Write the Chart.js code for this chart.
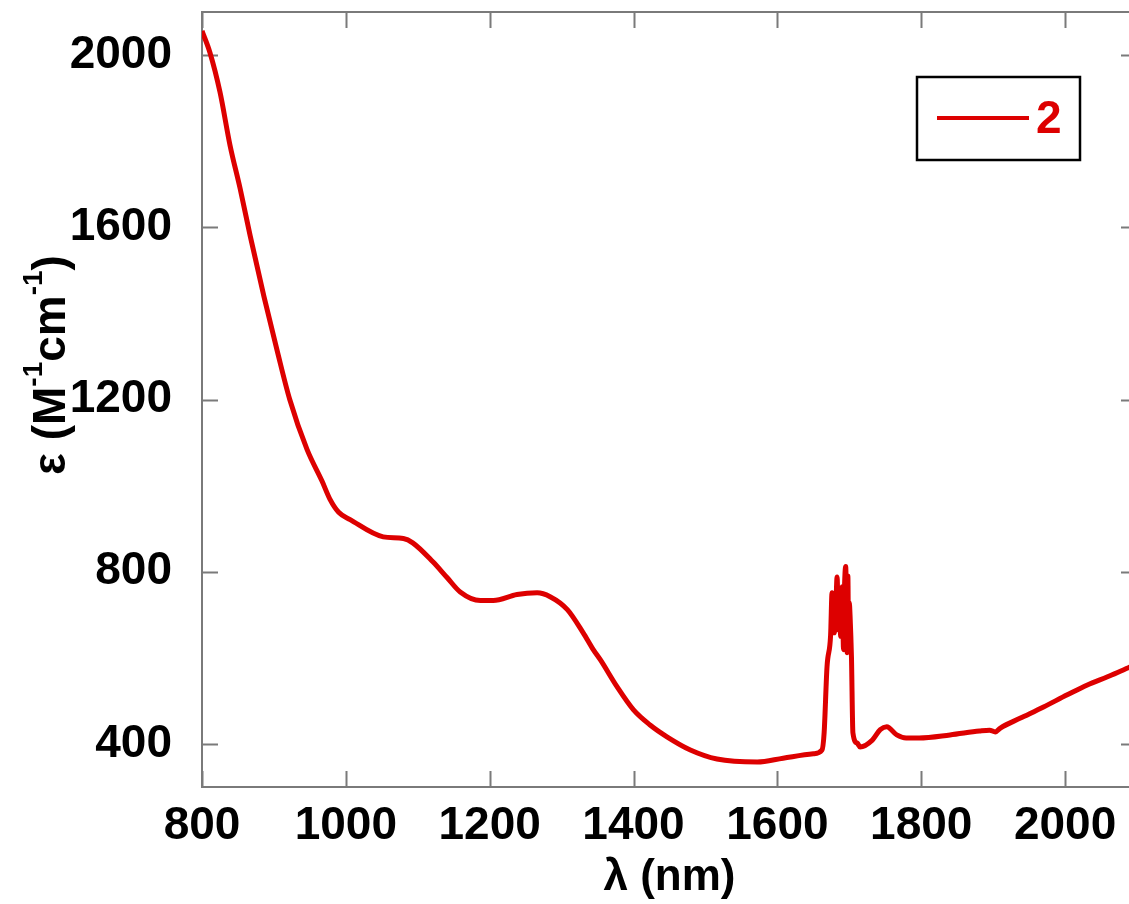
<!DOCTYPE html>
<html>
<head>
<meta charset="utf-8">
<script src="https://cdn.jsdelivr.net/npm/chart.js@4.4.1/dist/chart.umd.min.js"></script>
<style>
  html, body { margin: 0; padding: 0; overflow: hidden; background: #fff; }
  canvas { display: block; }
</style>
</head>
<body>
<canvas id="myChart" width="1145" height="904"></canvas>
<script>
const wavelength = [800, 811, 825, 839, 853, 867, 886, 905, 922, 946, 967, 978, 990, 1006, 1052, 1080, 1093, 1121, 1141, 1159,
  1187, 1205, 1238, 1266, 1284, 1308, 1330, 1344, 1354, 1377, 1400, 1423, 1447, 1479, 1516, 1572, 1608, 1650, 1662, 1665,
  1669, 1674, 1676, 1677, 1679, 1681, 1683, 1685, 1686, 1688, 1690, 1692, 1693, 1695, 1697, 1698, 1699, 1700, 1701, 1703,
  1705, 1711, 1715, 1732, 1743, 1752, 1766, 1779, 1797, 1840, 1881, 1895, 1903, 1910, 1938, 1970, 2003, 2031, 2059, 2088, 2100];
const epsilon = [2056, 2006, 1914, 1790, 1690, 1580, 1440, 1310, 1200, 1084, 1010, 968, 938, 921, 881, 877, 867, 823, 786, 753,
  733, 733, 747, 751, 742, 712, 658, 619, 595, 533, 479, 444, 416, 386, 365, 358, 367, 377, 386, 426,
  579, 653, 751, 690, 658, 700, 788, 665, 760, 650, 765, 619, 740, 812, 612, 790, 640, 728, 700, 602,
  426, 402, 393, 409, 433, 440, 421, 414, 414, 421, 430, 432, 428, 437, 460, 486, 514, 537, 556, 577, 585];
const xTicks = [800, 1000, 1200, 1400, 1600, 1800, 2000];
const yTicks = [400, 800, 1200, 1600, 2000];

const red = '#dd0000';
const frameColor = '#7a7a7a';
const fontFam = '"Liberation Sans", Arial, Helvetica, sans-serif';

const points = wavelength.map((w, i) => ({ x: w, y: epsilon[i] }));

// box, inward ticks on all four sides, y title with superscripts, boxed legend
const decor = {
  id: 'decor',
  beforeDatasetsDraw(chart) {
    const { ctx, chartArea: a, scales } = chart;
    const tl = 16;
    ctx.save();
    ctx.strokeStyle = frameColor;
    ctx.lineWidth = 2;
    ctx.strokeRect(a.left, a.top, a.right - a.left, a.bottom - a.top);
    ctx.beginPath();
    xTicks.forEach(v => {
      const px = Math.round(scales.x.getPixelForValue(v)) + 0.5;
      ctx.moveTo(px, a.bottom); ctx.lineTo(px, a.bottom - tl);
      ctx.moveTo(px, a.top); ctx.lineTo(px, a.top + tl);
    });
    yTicks.forEach(v => {
      const py = Math.round(scales.y.getPixelForValue(v)) + 0.5;
      ctx.moveTo(a.left, py); ctx.lineTo(a.left + tl, py);
      ctx.moveTo(a.right, py); ctx.lineTo(a.right - tl, py);
    });
    ctx.stroke();
    ctx.restore();
  },
  afterDraw(chart) {
    const { ctx } = chart;
    ctx.save();
    // y axis title
    const parts = [
      ['\u03b5 (M', 46, 0], ['-1', 28, -23], ['cm', 46, 0], ['-1', 28, -23], [')', 46, 0]
    ];
    let total = 0;
    parts.forEach(p => { ctx.font = 'bold ' + p[1] + 'px ' + fontFam; total += ctx.measureText(p[0]).width; });
    ctx.translate(65, 365 + total / 2);
    ctx.rotate(-Math.PI / 2);
    ctx.fillStyle = '#000';
    ctx.textBaseline = 'alphabetic';
    let cx = 0;
    parts.forEach(p => {
      ctx.font = 'bold ' + p[1] + 'px ' + fontFam;
      ctx.fillText(p[0], cx, p[2]);
      cx += ctx.measureText(p[0]).width;
    });
    ctx.restore();

    // legend
    const ds = chart.data.datasets[0];
    ctx.save();
    ctx.strokeStyle = '#000';
    ctx.lineWidth = 2.5;
    ctx.strokeRect(917, 77, 163, 83);
    ctx.strokeStyle = ds.borderColor;
    ctx.lineWidth = 4;
    ctx.beginPath();
    ctx.moveTo(937, 118); ctx.lineTo(1029, 118);
    ctx.stroke();
    ctx.fillStyle = ds.borderColor;
    ctx.font = 'bold 46px ' + fontFam;
    ctx.textBaseline = 'middle';
    ctx.fillText(ds.label, 1036, 120);
    ctx.restore();
  }
};

new Chart('myChart', {
  type: 'line',
  data: {
    datasets: [{
      label: '2',
      data: points,
      borderColor: red,
      borderWidth: 5,
      pointRadius: 0,
      fill: false,
      cubicInterpolationMode: 'monotone'
    }]
  },
  options: {
    responsive: false,
    animation: false,
    layout: { padding: { top: 12, right: 8, left: 0, bottom: 0 } },
    plugins: { legend: { display: false }, tooltip: { enabled: false } },
    scales: {
      x: {
        type: 'linear',
        min: 800,
        max: 2100,
        afterBuildTicks: s => { s.ticks = xTicks.map(v => ({ value: v })); },
        afterFit: s => { s.height = 117; s.paddingLeft = 0; s.paddingRight = 0; },
        grid: { display: false },
        border: { display: false },
        ticks: {
          color: '#000',
          padding: 4,
          maxRotation: 0,
          callback: v => String(v),
          font: { family: fontFam, size: 46, weight: 'bold' }
        },
        title: {
          display: true,
          text: '\u03bb (nm)',
          color: '#000',
          padding: { top: 0, bottom: 0 },
          font: { family: fontFam, size: 44, weight: 'bold' }
        }
      },
      y: {
        type: 'linear',
        min: 300,
        max: 2100,
        afterBuildTicks: s => { s.ticks = yTicks.map(v => ({ value: v })); },
        afterFit: s => { s.width = 202; s.paddingTop = 0; s.paddingBottom = 0; },
        grid: { display: false },
        border: { display: false },
        ticks: {
          color: '#000',
          padding: 22,
          callback: v => String(v),
          font: { family: fontFam, size: 46, weight: 'bold' }
        }
      }
    }
  },
  plugins: [decor]
});
</script>
</body>
</html>
